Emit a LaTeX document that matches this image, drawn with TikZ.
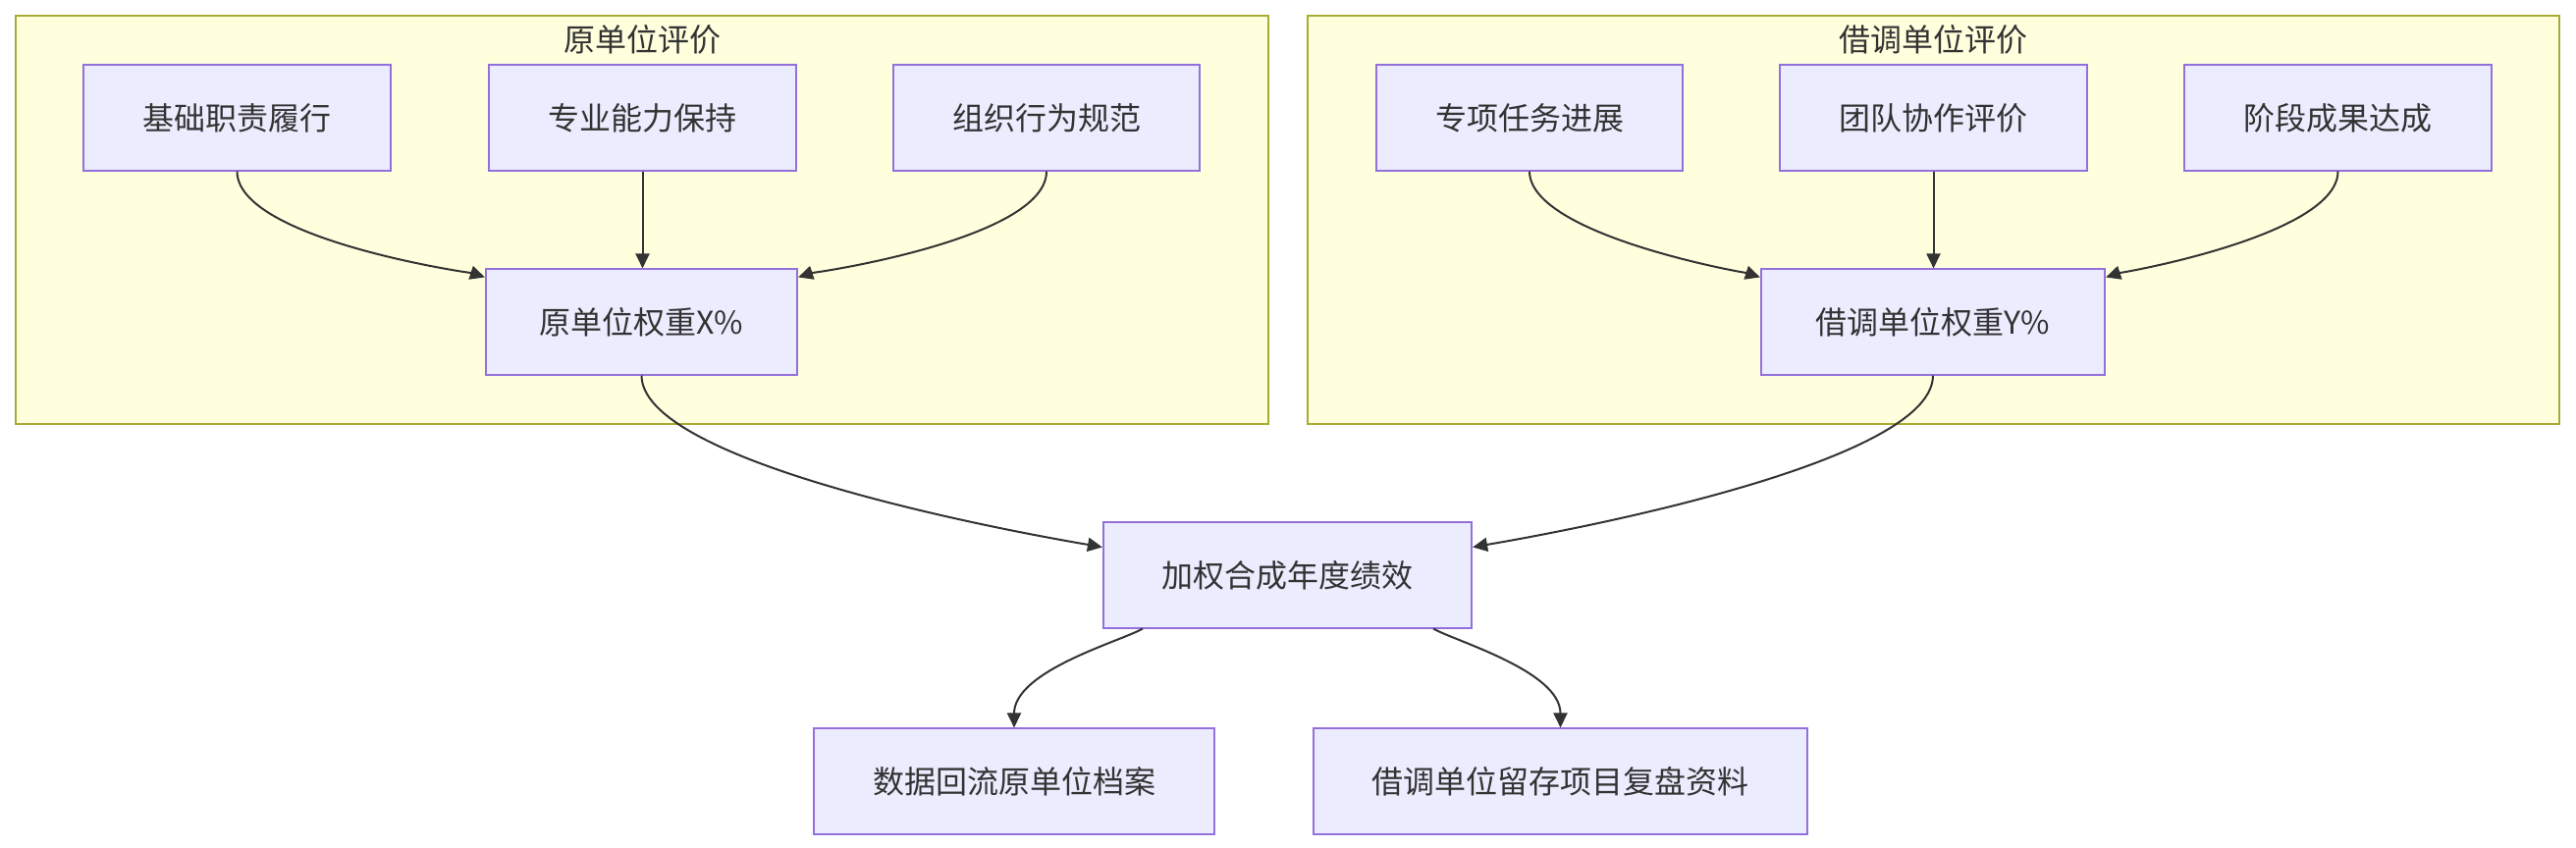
\documentclass[tikz,border=0pt]{standalone}
\usepackage{fontspec}
\usepackage{tikz}
\usepackage{xcolor}
\usetikzlibrary{arrows.meta, positioning, calc}
\newfontfamily\cjk{Noto Sans CJK SC}
\definecolor{cFill}{HTML}{ECECFF}
\definecolor{cLine}{HTML}{9370DB}
\definecolor{cGrp}{HTML}{FFFFDE}
\definecolor{cGrpLine}{HTML}{AAAA33}
\definecolor{cText}{HTML}{333333}
\tikzset{
	grp/.style ={rectangle, draw=cGrpLine, fill=cGrp, line width=0.02cm, inner sep=0pt},
	item/.style={rectangle, draw=cLine, fill=cFill, line width=0.02cm, minimum width=3.12cm, minimum height=1.07cm, inner sep=0pt, text=cText, align=center},
	flow/.style={-{Triangle[length=0.15cm, width=0.14cm]}, draw=cText, line width=0.02cm},
}
\begin{document}
\begin{tikzpicture}[x=0.01cm, y=-0.01cm, font=\cjk\fontsize{9.1pt}{11pt}\selectfont]
	\fill[white] (0,0) rectangle (2624,864);
	\useasboundingbox (0,0) rectangle (2624,864);
	% the two evaluation groups
	\node[grp, minimum width=12.76cm, minimum height=4.16cm] (gOld) at (654,224) {};
	\node[grp, minimum width=12.75cm, minimum height=4.16cm] (gNew) at (1969.5,224) {};
	\node[text=cText] (gOldT) at (654,40) {原单位评价};
	\node[text=cText] (gNewT) at (1969.5,40) {借调单位评价};
	% criteria
	\foreach \n/\x/\t in {a1/241.5/基础职责履行, a2/654.5/专业能力保持, a3/1066/组织行为规范,
		b1/1558/专项任务进展, b2/1969.5/团队协作评价, b3/2381.5/阶段成果达成} {
		\node[item] (\n) at (\x,120) {\t};
	}
	\node[item, minimum width=3.17cm] (wOld) at (653.5,328) {原单位权重X\%};
	\node[item, minimum width=3.50cm] (wNew) at (1969,328) {借调单位权重Y\%};
	\node[item, minimum width=3.75cm] (total) at (1311.5,586) {加权合成年度绩效};
	\node[item, minimum width=4.08cm] (outOld) at (1033,796) {数据回流原单位档案};
	\node[item, minimum width=5.03cm] (outNew) at (1589.5,796) {借调单位留存项目复盘资料};
	% edges into the weights
	\foreach \l/\m/\r/\w in {a1/a2/a3/wOld, b1/b2/b3/wNew} {
		\draw[flow] (\l.south) to[out=-90, in=162, out looseness=0.65, in looseness=0.1] ([yshift=-0.09cm]\w.north west);
		\draw[flow] (\m.south) -- (\m.south |- \w.north);
		\draw[flow] (\r.south) to[out=-90, in=18, out looseness=0.65, in looseness=0.1] ([yshift=-0.09cm]\w.north east);
	}
	\draw[flow] (wOld.south) to[out=-90, in=170, out looseness=0.5, in looseness=0.1] ([yshift=-0.26cm]total.north west);
	\draw[flow] (wNew.south) to[out=-90, in=10, out looseness=0.5, in looseness=0.1] ([yshift=-0.26cm]total.north east);
	\draw[flow] ([xshift=0.41cm]total.south west) to[out=-150, in=90, out looseness=0.4, in looseness=0.9] (outOld.north);
	\draw[flow] ([xshift=-0.40cm]total.south east) to[out=-30, in=90, out looseness=0.4, in looseness=0.9] (outNew.north);
\end{tikzpicture}
\end{document}
